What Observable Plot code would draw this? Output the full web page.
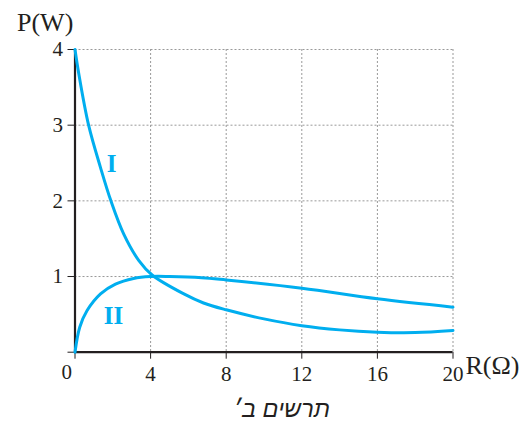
<!DOCTYPE html>
<html>
<head>
<meta charset="utf-8">
<script src="https://cdn.jsdelivr.net/npm/d3@7"></script>
<script src="https://cdn.jsdelivr.net/npm/@observablehq/plot@0.6"></script>
<style>
  html, body { margin: 0; padding: 0; background: white; }
  #wrap { position: relative; width: 523px; height: 423px; }
  #caption {
    position: absolute; left: 0; width: 523px; top: 397px;
    text-align: center; padding-left: 40px; box-sizing: border-box;
    font-family: "Liberation Sans", "DejaVu Sans", sans-serif; font-style: italic;
    font-size: 23.5px; color: #231f20; direction: rtl; line-height: 1.1;
  }
</style>
</head>
<body>
<div id="wrap"><div id="chart"></div><div id="caption">תרשים ב׳</div></div>
<script>
// Curve I (starts at 4 W)
const R_I = [0, 0.2, 0.72, 1.35, 1.9, 2.58, 3.38, 4.08, 5.76, 6.8, 8, 10, 12, 14, 16, 18, 20];
const P_I = [4, 3.68, 3.0, 2.44, 2.0, 1.56, 1.21, 1.02, 0.77, 0.65, 0.56, 0.44, 0.35, 0.295, 0.265, 0.26, 0.287];
// Curve II (starts at 0 W)
const R_II = [0, 0.25, 0.64, 1.35, 2.14, 3.1, 4, 5, 6.7, 8, 12, 16, 20];
const P_II = [0, 0.33, 0.55, 0.77, 0.9, 0.975, 1.0, 1.0, 0.985, 0.955, 0.845, 0.705, 0.595];

const xTicks = [4, 8, 12, 16, 20];
const yTicks = [1, 2, 3, 4];
const xLabel = "R(Ω)";
const yLabel = "P(W)";
const seriesNames = ["I", "II"];

const blue = "#00aeef";
const ink = "#231f20";

const curveI = R_I.map((r, i) => ({R: r, P: P_I[i]}));
const curveII = R_II.map((r, i) => ({R: r, P: P_II[i]}));

const chart = Plot.plot({
  width: 523,
  height: 390,
  marginLeft: 74.5,
  marginRight: 70.5,
  marginTop: 49,
  marginBottom: 38.3,
  x: {domain: [0, 20]},
  y: {domain: [0, 4]},
  style: {fontFamily: "Liberation Serif", fontSize: "21px", color: ink, background: "white", overflow: "visible"},
  marks: [
    Plot.gridX(xTicks, {stroke: "#999", strokeOpacity: 1, strokeDasharray: "2,2"}),
    Plot.gridY(yTicks, {stroke: "#999", strokeOpacity: 1, strokeDasharray: "2,2"}),
    Plot.axisX([0, ...xTicks], {tickSize: 7, tickPadding: 7, label: null, fontSize: 21, stroke: ink,
      tickFormat: d => d === 0 ? "" : d}),
    Plot.axisY([0, ...yTicks], {tickSize: 7, tickPadding: 5, label: null, fontSize: 21, stroke: ink,
      tickFormat: d => d === 0 ? "" : d}),
    Plot.ruleX([0], {stroke: ink, strokeWidth: 2.2}),
    Plot.ruleY([0], {stroke: ink, strokeWidth: 2.2}),
    Plot.text([0], {frameAnchor: "bottom-left", lineAnchor: "middle", text: d => String(d), dx: -13.5, dy: 20, fontSize: 21}),
    Plot.text([yLabel], {frameAnchor: "top-left", lineAnchor: "middle", text: d => d, textAnchor: "start", dx: -58, dy: -26.5, fontSize: 26}),
    Plot.text([xLabel], {frameAnchor: "bottom-right", lineAnchor: "middle", text: d => d, textAnchor: "start", dx: 12.5, dy: 13.5, fontSize: 26}),
    Plot.line(curveI, {x: "R", y: "P", stroke: blue, strokeWidth: 3, curve: "catmull-rom"}),
    Plot.line(curveII, {x: "R", y: "P", stroke: blue, strokeWidth: 3, curve: "catmull-rom"}),
    Plot.text([curveI[3]], {x: "R", y: "P", text: () => seriesNames[0], dx: 11, dy: -4, fill: blue, fontWeight: "bold", fontSize: 25}),
    Plot.text([curveII[2]], {x: "R", y: "P", text: () => seriesNames[1], dx: 26.5, dy: 5, fill: blue, fontWeight: "bold", fontSize: 25})
  ]
});
document.getElementById("chart").appendChild(chart);
</script>
</body>
</html>
